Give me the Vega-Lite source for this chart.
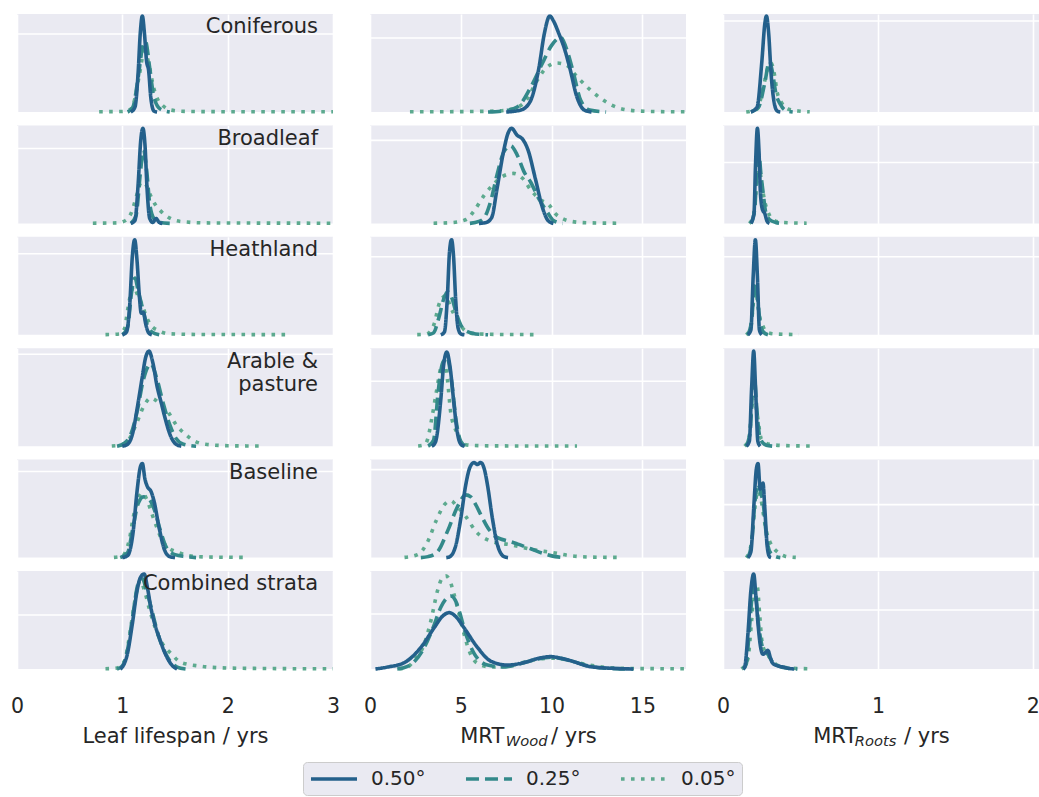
{
  "$schema": "https://vega.github.io/schema/vega-lite/v6.json",
  "padding": {"left": 10, "top": 8, "right": 0, "bottom": 0},
  "data": {
    "values": [
      {"v":"L","s":1,"t":"Coniferous"},{"v":"L","s":2,"t":"Broadleaf"},{"v":"L","s":3,"t":"Heathland"},
      {"v":"L","s":4,"t":"Arable &\npasture"},{"v":"L","s":5,"t":"Baseline"},{"v":"L","s":6,"t":"Combined strata"},
      {"v":"W","s":6,"u":"Wood"},{"v":"R","s":6,"u":"Roots"},

      {"v":"L","s":1,"g":0.796},{"v":"L","s":2,"g":0.765},{"v":"L","s":3,"g":0.827},{"v":"L","s":4,"g":0.939},{"v":"L","s":5,"g":0.878},{"v":"L","s":6,"g":0.551},
      {"v":"W","s":1,"g":0.755},{"v":"W","s":2,"g":0.847},{"v":"W","s":3,"g":0.796},{"v":"W","s":4,"g":0.663},{"v":"W","s":5,"g":0.898},{"v":"W","s":6,"g":0.561},
      {"v":"R","s":1,"g":0.929},{"v":"R","s":2,"g":0.622},{"v":"R","s":3,"g":0.796},{"v":"R","s":5,"g":0.541},{"v":"R","s":6,"g":0.602},

      {"v":"L","s":1,"r":"c","x":0.78,"y":0.003},{"v":"L","s":1,"r":"c","x":1.0,"y":0.005},{"v":"L","s":1,"r":"c","x":1.08,"y":0.03},{"v":"L","s":1,"r":"c","x":1.12,"y":0.14},{"v":"L","s":1,"r":"c","x":1.16,"y":0.37},{"v":"L","s":1,"r":"c","x":1.21,"y":0.62},{"v":"L","s":1,"r":"c","x":1.26,"y":0.45},{"v":"L","s":1,"r":"c","x":1.29,"y":0.28},{"v":"L","s":1,"r":"c","x":1.34,"y":0.12},{"v":"L","s":1,"r":"c","x":1.38,"y":0.07},{"v":"L","s":1,"r":"c","x":1.46,"y":0.02},{"v":"L","s":1,"r":"c","x":1.6,"y":0.006},{"v":"L","s":1,"r":"c","x":2.0,"y":0.003},{"v":"L","s":1,"r":"c","x":3.0,"y":0.002},
      {"v":"L","s":1,"r":"b","x":1.05,"y":0},{"v":"L","s":1,"r":"b","x":1.1,"y":0.05},{"v":"L","s":1,"r":"b","x":1.15,"y":0.35},{"v":"L","s":1,"r":"b","x":1.19,"y":0.65},{"v":"L","s":1,"r":"b","x":1.22,"y":0.72},{"v":"L","s":1,"r":"b","x":1.26,"y":0.45},{"v":"L","s":1,"r":"b","x":1.3,"y":0.15},{"v":"L","s":1,"r":"b","x":1.36,"y":0.03},{"v":"L","s":1,"r":"b","x":1.45,"y":0},
      {"v":"L","s":1,"r":"a","x":1.08,"y":0},{"v":"L","s":1,"r":"a","x":1.12,"y":0.05},{"v":"L","s":1,"r":"a","x":1.15,"y":0.4},{"v":"L","s":1,"r":"a","x":1.17,"y":0.8},{"v":"L","s":1,"r":"a","x":1.19,"y":0.98},{"v":"L","s":1,"r":"a","x":1.21,"y":0.8},{"v":"L","s":1,"r":"a","x":1.23,"y":0.52},{"v":"L","s":1,"r":"a","x":1.25,"y":0.42},{"v":"L","s":1,"r":"a","x":1.27,"y":0.15},{"v":"L","s":1,"r":"a","x":1.3,"y":0.01},{"v":"L","s":1,"r":"a","x":1.33,"y":0},

      {"v":"L","s":2,"r":"c","x":0.72,"y":0.002},{"v":"L","s":2,"r":"c","x":0.95,"y":0.006},{"v":"L","s":2,"r":"c","x":1.03,"y":0.03},{"v":"L","s":2,"r":"c","x":1.09,"y":0.12},{"v":"L","s":2,"r":"c","x":1.14,"y":0.3},{"v":"L","s":2,"r":"c","x":1.18,"y":0.42},{"v":"L","s":2,"r":"c","x":1.22,"y":0.4},{"v":"L","s":2,"r":"c","x":1.27,"y":0.28},{"v":"L","s":2,"r":"c","x":1.32,"y":0.18},{"v":"L","s":2,"r":"c","x":1.37,"y":0.12},{"v":"L","s":2,"r":"c","x":1.44,"y":0.06},{"v":"L","s":2,"r":"c","x":1.55,"y":0.02},{"v":"L","s":2,"r":"c","x":1.8,"y":0.005},{"v":"L","s":2,"r":"c","x":3.0,"y":0.002},
      {"v":"L","s":2,"r":"b","x":1.08,"y":0},{"v":"L","s":2,"r":"b","x":1.13,"y":0.08},{"v":"L","s":2,"r":"b","x":1.17,"y":0.5},{"v":"L","s":2,"r":"b","x":1.2,"y":0.75},{"v":"L","s":2,"r":"b","x":1.23,"y":0.55},{"v":"L","s":2,"r":"b","x":1.26,"y":0.2},{"v":"L","s":2,"r":"b","x":1.3,"y":0.05},{"v":"L","s":2,"r":"b","x":1.36,"y":0.01},{"v":"L","s":2,"r":"b","x":1.45,"y":0},
      {"v":"L","s":2,"r":"a","x":1.08,"y":0},{"v":"L","s":2,"r":"a","x":1.12,"y":0.03},{"v":"L","s":2,"r":"a","x":1.15,"y":0.4},{"v":"L","s":2,"r":"a","x":1.175,"y":0.85},{"v":"L","s":2,"r":"a","x":1.195,"y":0.97},{"v":"L","s":2,"r":"a","x":1.215,"y":0.8},{"v":"L","s":2,"r":"a","x":1.235,"y":0.35},{"v":"L","s":2,"r":"a","x":1.26,"y":0.05},{"v":"L","s":2,"r":"a","x":1.29,"y":0.01},{"v":"L","s":2,"r":"a","x":1.32,"y":0.05},{"v":"L","s":2,"r":"a","x":1.35,"y":0.01},{"v":"L","s":2,"r":"a","x":1.38,"y":0},

      {"v":"L","s":3,"r":"c","x":0.84,"y":0.002},{"v":"L","s":3,"r":"c","x":0.97,"y":0.008},{"v":"L","s":3,"r":"c","x":1.02,"y":0.06},{"v":"L","s":3,"r":"c","x":1.05,"y":0.25},{"v":"L","s":3,"r":"c","x":1.08,"y":0.42},{"v":"L","s":3,"r":"c","x":1.11,"y":0.49},{"v":"L","s":3,"r":"c","x":1.14,"y":0.42},{"v":"L","s":3,"r":"c","x":1.19,"y":0.3},{"v":"L","s":3,"r":"c","x":1.23,"y":0.18},{"v":"L","s":3,"r":"c","x":1.27,"y":0.1},{"v":"L","s":3,"r":"c","x":1.35,"y":0.04},{"v":"L","s":3,"r":"c","x":1.45,"y":0.01},{"v":"L","s":3,"r":"c","x":1.8,"y":0.003},{"v":"L","s":3,"r":"c","x":2.55,"y":0.002},
      {"v":"L","s":3,"r":"b","x":1.0,"y":0},{"v":"L","s":3,"r":"b","x":1.05,"y":0.08},{"v":"L","s":3,"r":"b","x":1.09,"y":0.45},{"v":"L","s":3,"r":"b","x":1.12,"y":0.58},{"v":"L","s":3,"r":"b","x":1.15,"y":0.45},{"v":"L","s":3,"r":"b","x":1.19,"y":0.28},{"v":"L","s":3,"r":"b","x":1.23,"y":0.12},{"v":"L","s":3,"r":"b","x":1.28,"y":0.03},{"v":"L","s":3,"r":"b","x":1.35,"y":0},
      {"v":"L","s":3,"r":"a","x":1.0,"y":0},{"v":"L","s":3,"r":"a","x":1.04,"y":0.03},{"v":"L","s":3,"r":"a","x":1.07,"y":0.3},{"v":"L","s":3,"r":"a","x":1.095,"y":0.8},{"v":"L","s":3,"r":"a","x":1.117,"y":0.97},{"v":"L","s":3,"r":"a","x":1.14,"y":0.75},{"v":"L","s":3,"r":"a","x":1.16,"y":0.42},{"v":"L","s":3,"r":"a","x":1.18,"y":0.22},{"v":"L","s":3,"r":"a","x":1.2,"y":0.23},{"v":"L","s":3,"r":"a","x":1.22,"y":0.12},{"v":"L","s":3,"r":"a","x":1.25,"y":0.02},{"v":"L","s":3,"r":"a","x":1.28,"y":0},

      {"v":"L","s":4,"r":"c","x":0.9,"y":0.002},{"v":"L","s":4,"r":"c","x":1.0,"y":0.015},{"v":"L","s":4,"r":"c","x":1.05,"y":0.05},{"v":"L","s":4,"r":"c","x":1.13,"y":0.22},{"v":"L","s":4,"r":"c","x":1.2,"y":0.4},{"v":"L","s":4,"r":"c","x":1.27,"y":0.49},{"v":"L","s":4,"r":"c","x":1.35,"y":0.44},{"v":"L","s":4,"r":"c","x":1.44,"y":0.34},{"v":"L","s":4,"r":"c","x":1.51,"y":0.22},{"v":"L","s":4,"r":"c","x":1.6,"y":0.12},{"v":"L","s":4,"r":"c","x":1.69,"y":0.05},{"v":"L","s":4,"r":"c","x":1.79,"y":0.02},{"v":"L","s":4,"r":"c","x":2.0,"y":0.005},{"v":"L","s":4,"r":"c","x":2.3,"y":0.002},
      {"v":"L","s":4,"r":"b","x":0.95,"y":0},{"v":"L","s":4,"r":"b","x":1.02,"y":0.03},{"v":"L","s":4,"r":"b","x":1.08,"y":0.12},{"v":"L","s":4,"r":"b","x":1.14,"y":0.35},{"v":"L","s":4,"r":"b","x":1.2,"y":0.68},{"v":"L","s":4,"r":"b","x":1.27,"y":0.84},{"v":"L","s":4,"r":"b","x":1.33,"y":0.68},{"v":"L","s":4,"r":"b","x":1.39,"y":0.43},{"v":"L","s":4,"r":"b","x":1.45,"y":0.22},{"v":"L","s":4,"r":"b","x":1.51,"y":0.08},{"v":"L","s":4,"r":"b","x":1.58,"y":0.02},{"v":"L","s":4,"r":"b","x":1.7,"y":0},
      {"v":"L","s":4,"r":"a","x":1.0,"y":0},{"v":"L","s":4,"r":"a","x":1.05,"y":0.02},{"v":"L","s":4,"r":"a","x":1.1,"y":0.14},{"v":"L","s":4,"r":"a","x":1.14,"y":0.38},{"v":"L","s":4,"r":"a","x":1.19,"y":0.71},{"v":"L","s":4,"r":"a","x":1.22,"y":0.9},{"v":"L","s":4,"r":"a","x":1.253,"y":0.97},{"v":"L","s":4,"r":"a","x":1.29,"y":0.85},{"v":"L","s":4,"r":"a","x":1.33,"y":0.61},{"v":"L","s":4,"r":"a","x":1.37,"y":0.44},{"v":"L","s":4,"r":"a","x":1.4,"y":0.31},{"v":"L","s":4,"r":"a","x":1.46,"y":0.1},{"v":"L","s":4,"r":"a","x":1.51,"y":0.02},{"v":"L","s":4,"r":"a","x":1.56,"y":0},

      {"v":"L","s":5,"r":"c","x":0.92,"y":0.002},{"v":"L","s":5,"r":"c","x":1.0,"y":0.015},{"v":"L","s":5,"r":"c","x":1.03,"y":0.06},{"v":"L","s":5,"r":"c","x":1.07,"y":0.2},{"v":"L","s":5,"r":"c","x":1.1,"y":0.39},{"v":"L","s":5,"r":"c","x":1.15,"y":0.6},{"v":"L","s":5,"r":"c","x":1.19,"y":0.66},{"v":"L","s":5,"r":"c","x":1.23,"y":0.6},{"v":"L","s":5,"r":"c","x":1.28,"y":0.45},{"v":"L","s":5,"r":"c","x":1.33,"y":0.3},{"v":"L","s":5,"r":"c","x":1.38,"y":0.17},{"v":"L","s":5,"r":"c","x":1.44,"y":0.1},{"v":"L","s":5,"r":"c","x":1.54,"y":0.05},{"v":"L","s":5,"r":"c","x":1.63,"y":0.02},{"v":"L","s":5,"r":"c","x":1.8,"y":0.006},{"v":"L","s":5,"r":"c","x":2.2,"y":0.002},
      {"v":"L","s":5,"r":"b","x":0.98,"y":0},{"v":"L","s":5,"r":"b","x":1.05,"y":0.05},{"v":"L","s":5,"r":"b","x":1.1,"y":0.3},{"v":"L","s":5,"r":"b","x":1.15,"y":0.55},{"v":"L","s":5,"r":"b","x":1.2,"y":0.62},{"v":"L","s":5,"r":"b","x":1.25,"y":0.6},{"v":"L","s":5,"r":"b","x":1.3,"y":0.5},{"v":"L","s":5,"r":"b","x":1.36,"y":0.28},{"v":"L","s":5,"r":"b","x":1.42,"y":0.1},{"v":"L","s":5,"r":"b","x":1.5,"y":0.03},{"v":"L","s":5,"r":"b","x":1.6,"y":0.01},{"v":"L","s":5,"r":"b","x":1.7,"y":0},
      {"v":"L","s":5,"r":"a","x":1.0,"y":0},{"v":"L","s":5,"r":"a","x":1.05,"y":0.02},{"v":"L","s":5,"r":"a","x":1.1,"y":0.24},{"v":"L","s":5,"r":"a","x":1.14,"y":0.68},{"v":"L","s":5,"r":"a","x":1.17,"y":0.92},{"v":"L","s":5,"r":"a","x":1.19,"y":0.96},{"v":"L","s":5,"r":"a","x":1.215,"y":0.8},{"v":"L","s":5,"r":"a","x":1.24,"y":0.72},{"v":"L","s":5,"r":"a","x":1.27,"y":0.68},{"v":"L","s":5,"r":"a","x":1.3,"y":0.58},{"v":"L","s":5,"r":"a","x":1.35,"y":0.3},{"v":"L","s":5,"r":"a","x":1.4,"y":0.08},{"v":"L","s":5,"r":"a","x":1.45,"y":0.01},{"v":"L","s":5,"r":"a","x":1.5,"y":0},

      {"v":"L","s":6,"r":"c","x":0.84,"y":0.002},{"v":"L","s":6,"r":"c","x":0.95,"y":0.01},{"v":"L","s":6,"r":"c","x":1.02,"y":0.08},{"v":"L","s":6,"r":"c","x":1.07,"y":0.35},{"v":"L","s":6,"r":"c","x":1.12,"y":0.7},{"v":"L","s":6,"r":"c","x":1.17,"y":0.9},{"v":"L","s":6,"r":"c","x":1.21,"y":0.8},{"v":"L","s":6,"r":"c","x":1.26,"y":0.6},{"v":"L","s":6,"r":"c","x":1.32,"y":0.4},{"v":"L","s":6,"r":"c","x":1.38,"y":0.26},{"v":"L","s":6,"r":"c","x":1.47,"y":0.15},{"v":"L","s":6,"r":"c","x":1.55,"y":0.07},{"v":"L","s":6,"r":"c","x":1.73,"y":0.03},{"v":"L","s":6,"r":"c","x":2.0,"y":0.01},{"v":"L","s":6,"r":"c","x":2.5,"y":0.004},{"v":"L","s":6,"r":"c","x":3.0,"y":0.002},
      {"v":"L","s":6,"r":"b","x":0.95,"y":0},{"v":"L","s":6,"r":"b","x":1.0,"y":0.03},{"v":"L","s":6,"r":"b","x":1.05,"y":0.2},{"v":"L","s":6,"r":"b","x":1.1,"y":0.55},{"v":"L","s":6,"r":"b","x":1.15,"y":0.87},{"v":"L","s":6,"r":"b","x":1.19,"y":0.92},{"v":"L","s":6,"r":"b","x":1.23,"y":0.8},{"v":"L","s":6,"r":"b","x":1.28,"y":0.6},{"v":"L","s":6,"r":"b","x":1.34,"y":0.35},{"v":"L","s":6,"r":"b","x":1.4,"y":0.18},{"v":"L","s":6,"r":"b","x":1.46,"y":0.07},{"v":"L","s":6,"r":"b","x":1.52,"y":0.02},{"v":"L","s":6,"r":"b","x":1.6,"y":0},
      {"v":"L","s":6,"r":"a","x":0.98,"y":0},{"v":"L","s":6,"r":"a","x":1.0,"y":0.02},{"v":"L","s":6,"r":"a","x":1.047,"y":0.15},{"v":"L","s":6,"r":"a","x":1.095,"y":0.46},{"v":"L","s":6,"r":"a","x":1.14,"y":0.8},{"v":"L","s":6,"r":"a","x":1.17,"y":0.93},{"v":"L","s":6,"r":"a","x":1.206,"y":0.97},{"v":"L","s":6,"r":"a","x":1.24,"y":0.82},{"v":"L","s":6,"r":"a","x":1.27,"y":0.63},{"v":"L","s":6,"r":"a","x":1.31,"y":0.45},{"v":"L","s":6,"r":"a","x":1.35,"y":0.32},{"v":"L","s":6,"r":"a","x":1.41,"y":0.15},{"v":"L","s":6,"r":"a","x":1.47,"y":0.04},{"v":"L","s":6,"r":"a","x":1.52,"y":0},

      {"v":"W","s":1,"r":"c","x":2.2,"y":0.002},{"v":"W","s":1,"r":"c","x":5,"y":0.004},{"v":"W","s":1,"r":"c","x":7,"y":0.01},{"v":"W","s":1,"r":"c","x":8.0,"y":0.04},{"v":"W","s":1,"r":"c","x":8.6,"y":0.12},{"v":"W","s":1,"r":"c","x":9.2,"y":0.32},{"v":"W","s":1,"r":"c","x":9.7,"y":0.45},{"v":"W","s":1,"r":"c","x":10.3,"y":0.5},{"v":"W","s":1,"r":"c","x":10.8,"y":0.48},{"v":"W","s":1,"r":"c","x":11.4,"y":0.36},{"v":"W","s":1,"r":"c","x":12.1,"y":0.23},{"v":"W","s":1,"r":"c","x":12.7,"y":0.14},{"v":"W","s":1,"r":"c","x":13.2,"y":0.08},{"v":"W","s":1,"r":"c","x":14.2,"y":0.02},{"v":"W","s":1,"r":"c","x":15.5,"y":0.005},{"v":"W","s":1,"r":"c","x":17.4,"y":0.002},
      {"v":"W","s":1,"r":"b","x":6.5,"y":0},{"v":"W","s":1,"r":"b","x":7.3,"y":0.01},{"v":"W","s":1,"r":"b","x":8.1,"y":0.05},{"v":"W","s":1,"r":"b","x":8.9,"y":0.27},{"v":"W","s":1,"r":"b","x":9.5,"y":0.5},{"v":"W","s":1,"r":"b","x":10.0,"y":0.68},{"v":"W","s":1,"r":"b","x":10.5,"y":0.76},{"v":"W","s":1,"r":"b","x":10.9,"y":0.6},{"v":"W","s":1,"r":"b","x":11.2,"y":0.4},{"v":"W","s":1,"r":"b","x":11.6,"y":0.12},{"v":"W","s":1,"r":"b","x":12.1,"y":0.02},{"v":"W","s":1,"r":"b","x":13,"y":0},
      {"v":"W","s":1,"r":"a","x":7.5,"y":0},{"v":"W","s":1,"r":"a","x":8.3,"y":0.02},{"v":"W","s":1,"r":"a","x":8.8,"y":0.1},{"v":"W","s":1,"r":"a","x":9.3,"y":0.45},{"v":"W","s":1,"r":"a","x":9.6,"y":0.8},{"v":"W","s":1,"r":"a","x":9.9,"y":0.98},{"v":"W","s":1,"r":"a","x":10.1,"y":0.93},{"v":"W","s":1,"r":"a","x":10.4,"y":0.8},{"v":"W","s":1,"r":"a","x":10.7,"y":0.65},{"v":"W","s":1,"r":"a","x":11.0,"y":0.45},{"v":"W","s":1,"r":"a","x":11.4,"y":0.15},{"v":"W","s":1,"r":"a","x":11.8,"y":0.02},{"v":"W","s":1,"r":"a","x":12.2,"y":0},

      {"v":"W","s":2,"r":"c","x":3.5,"y":0.002},{"v":"W","s":2,"r":"c","x":4.5,"y":0.008},{"v":"W","s":2,"r":"c","x":5.3,"y":0.04},{"v":"W","s":2,"r":"c","x":5.7,"y":0.12},{"v":"W","s":2,"r":"c","x":6.3,"y":0.29},{"v":"W","s":2,"r":"c","x":6.8,"y":0.4},{"v":"W","s":2,"r":"c","x":7.3,"y":0.48},{"v":"W","s":2,"r":"c","x":7.9,"y":0.51},{"v":"W","s":2,"r":"c","x":8.4,"y":0.46},{"v":"W","s":2,"r":"c","x":8.9,"y":0.33},{"v":"W","s":2,"r":"c","x":9.4,"y":0.24},{"v":"W","s":2,"r":"c","x":9.85,"y":0.19},{"v":"W","s":2,"r":"c","x":10.2,"y":0.1},{"v":"W","s":2,"r":"c","x":10.6,"y":0.05},{"v":"W","s":2,"r":"c","x":11.1,"y":0.02},{"v":"W","s":2,"r":"c","x":12,"y":0.006},{"v":"W","s":2,"r":"c","x":13.6,"y":0.002},
      {"v":"W","s":2,"r":"b","x":5.5,"y":0},{"v":"W","s":2,"r":"b","x":6.0,"y":0.02},{"v":"W","s":2,"r":"b","x":6.3,"y":0.06},{"v":"W","s":2,"r":"b","x":6.65,"y":0.23},{"v":"W","s":2,"r":"b","x":7.0,"y":0.5},{"v":"W","s":2,"r":"b","x":7.4,"y":0.74},{"v":"W","s":2,"r":"b","x":7.75,"y":0.79},{"v":"W","s":2,"r":"b","x":8.1,"y":0.7},{"v":"W","s":2,"r":"b","x":8.5,"y":0.52},{"v":"W","s":2,"r":"b","x":8.85,"y":0.42},{"v":"W","s":2,"r":"b","x":9.3,"y":0.25},{"v":"W","s":2,"r":"b","x":9.75,"y":0.12},{"v":"W","s":2,"r":"b","x":10.1,"y":0.03},{"v":"W","s":2,"r":"b","x":10.6,"y":0},
      {"v":"W","s":2,"r":"a","x":6.0,"y":0},{"v":"W","s":2,"r":"a","x":6.4,"y":0.01},{"v":"W","s":2,"r":"a","x":6.7,"y":0.06},{"v":"W","s":2,"r":"a","x":7.0,"y":0.36},{"v":"W","s":2,"r":"a","x":7.35,"y":0.73},{"v":"W","s":2,"r":"a","x":7.6,"y":0.92},{"v":"W","s":2,"r":"a","x":7.8,"y":0.97},{"v":"W","s":2,"r":"a","x":8.1,"y":0.9},{"v":"W","s":2,"r":"a","x":8.4,"y":0.86},{"v":"W","s":2,"r":"a","x":8.7,"y":0.75},{"v":"W","s":2,"r":"a","x":9.1,"y":0.46},{"v":"W","s":2,"r":"a","x":9.5,"y":0.16},{"v":"W","s":2,"r":"a","x":9.8,"y":0.03},{"v":"W","s":2,"r":"a","x":10.1,"y":0},

      {"v":"W","s":3,"r":"c","x":2.6,"y":0.002},{"v":"W","s":3,"r":"c","x":3.1,"y":0.008},{"v":"W","s":3,"r":"c","x":3.3,"y":0.03},{"v":"W","s":3,"r":"c","x":3.55,"y":0.12},{"v":"W","s":3,"r":"c","x":3.78,"y":0.3},{"v":"W","s":3,"r":"c","x":4.0,"y":0.38},{"v":"W","s":3,"r":"c","x":4.18,"y":0.4},{"v":"W","s":3,"r":"c","x":4.4,"y":0.3},{"v":"W","s":3,"r":"c","x":4.6,"y":0.22},{"v":"W","s":3,"r":"c","x":4.85,"y":0.14},{"v":"W","s":3,"r":"c","x":5.25,"y":0.04},{"v":"W","s":3,"r":"c","x":5.8,"y":0.01},{"v":"W","s":3,"r":"c","x":7,"y":0.004},{"v":"W","s":3,"r":"c","x":9.2,"y":0.002},
      {"v":"W","s":3,"r":"b","x":3.2,"y":0},{"v":"W","s":3,"r":"b","x":3.5,"y":0.02},{"v":"W","s":3,"r":"b","x":3.8,"y":0.18},{"v":"W","s":3,"r":"b","x":4.05,"y":0.36},{"v":"W","s":3,"r":"b","x":4.27,"y":0.44},{"v":"W","s":3,"r":"b","x":4.5,"y":0.38},{"v":"W","s":3,"r":"b","x":4.75,"y":0.22},{"v":"W","s":3,"r":"b","x":5.0,"y":0.1},{"v":"W","s":3,"r":"b","x":5.4,"y":0.03},{"v":"W","s":3,"r":"b","x":6.0,"y":0.005},{"v":"W","s":3,"r":"b","x":6.5,"y":0},
      {"v":"W","s":3,"r":"a","x":3.9,"y":0},{"v":"W","s":3,"r":"a","x":4.1,"y":0.03},{"v":"W","s":3,"r":"a","x":4.25,"y":0.35},{"v":"W","s":3,"r":"a","x":4.38,"y":0.85},{"v":"W","s":3,"r":"a","x":4.49,"y":0.97},{"v":"W","s":3,"r":"a","x":4.6,"y":0.8},{"v":"W","s":3,"r":"a","x":4.72,"y":0.35},{"v":"W","s":3,"r":"a","x":4.85,"y":0.07},{"v":"W","s":3,"r":"a","x":5.0,"y":0.01},{"v":"W","s":3,"r":"a","x":5.2,"y":0},

      {"v":"W","s":4,"r":"c","x":2.65,"y":0.002},{"v":"W","s":4,"r":"c","x":3.0,"y":0.015},{"v":"W","s":4,"r":"c","x":3.17,"y":0.07},{"v":"W","s":4,"r":"c","x":3.39,"y":0.27},{"v":"W","s":4,"r":"c","x":3.67,"y":0.57},{"v":"W","s":4,"r":"c","x":3.9,"y":0.8},{"v":"W","s":4,"r":"c","x":4.08,"y":0.86},{"v":"W","s":4,"r":"c","x":4.25,"y":0.7},{"v":"W","s":4,"r":"c","x":4.45,"y":0.34},{"v":"W","s":4,"r":"c","x":4.78,"y":0.14},{"v":"W","s":4,"r":"c","x":5.05,"y":0.03},{"v":"W","s":4,"r":"c","x":5.6,"y":0.008},{"v":"W","s":4,"r":"c","x":7,"y":0.003},{"v":"W","s":4,"r":"c","x":11.4,"y":0.002},
      {"v":"W","s":4,"r":"b","x":3.2,"y":0},{"v":"W","s":4,"r":"b","x":3.5,"y":0.06},{"v":"W","s":4,"r":"b","x":3.75,"y":0.55},{"v":"W","s":4,"r":"b","x":4.0,"y":0.85},{"v":"W","s":4,"r":"b","x":4.25,"y":0.9},{"v":"W","s":4,"r":"b","x":4.5,"y":0.65},{"v":"W","s":4,"r":"b","x":4.75,"y":0.25},{"v":"W","s":4,"r":"b","x":5.0,"y":0.05},{"v":"W","s":4,"r":"b","x":5.3,"y":0},
      {"v":"W","s":4,"r":"a","x":3.4,"y":0},{"v":"W","s":4,"r":"a","x":3.6,"y":0.04},{"v":"W","s":4,"r":"a","x":3.9,"y":0.48},{"v":"W","s":4,"r":"a","x":4.05,"y":0.82},{"v":"W","s":4,"r":"a","x":4.23,"y":0.96},{"v":"W","s":4,"r":"a","x":4.4,"y":0.82},{"v":"W","s":4,"r":"a","x":4.63,"y":0.42},{"v":"W","s":4,"r":"a","x":4.8,"y":0.15},{"v":"W","s":4,"r":"a","x":5.0,"y":0.02},{"v":"W","s":4,"r":"a","x":5.2,"y":0},

      {"v":"W","s":5,"r":"c","x":1.9,"y":0.002},{"v":"W","s":5,"r":"c","x":2.62,"y":0.03},{"v":"W","s":5,"r":"c","x":3.17,"y":0.16},{"v":"W","s":5,"r":"c","x":3.63,"y":0.37},{"v":"W","s":5,"r":"c","x":4.1,"y":0.54},{"v":"W","s":5,"r":"c","x":4.45,"y":0.58},{"v":"W","s":5,"r":"c","x":4.8,"y":0.52},{"v":"W","s":5,"r":"c","x":5.27,"y":0.42},{"v":"W","s":5,"r":"c","x":5.82,"y":0.27},{"v":"W","s":5,"r":"c","x":6.63,"y":0.17},{"v":"W","s":5,"r":"c","x":7.75,"y":0.13},{"v":"W","s":5,"r":"c","x":9.03,"y":0.08},{"v":"W","s":5,"r":"c","x":10.1,"y":0.05},{"v":"W","s":5,"r":"c","x":11.0,"y":0.02},{"v":"W","s":5,"r":"c","x":12,"y":0.006},{"v":"W","s":5,"r":"c","x":13.6,"y":0.002},
      {"v":"W","s":5,"r":"b","x":2.8,"y":0},{"v":"W","s":5,"r":"b","x":3.2,"y":0.01},{"v":"W","s":5,"r":"b","x":3.72,"y":0.06},{"v":"W","s":5,"r":"b","x":4.27,"y":0.27},{"v":"W","s":5,"r":"b","x":4.82,"y":0.52},{"v":"W","s":5,"r":"b","x":5.27,"y":0.64},{"v":"W","s":5,"r":"b","x":5.55,"y":0.62},{"v":"W","s":5,"r":"b","x":5.82,"y":0.54},{"v":"W","s":5,"r":"b","x":6.15,"y":0.42},{"v":"W","s":5,"r":"b","x":6.47,"y":0.31},{"v":"W","s":5,"r":"b","x":6.8,"y":0.23},{"v":"W","s":5,"r":"b","x":7.2,"y":0.19},{"v":"W","s":5,"r":"b","x":7.6,"y":0.17},{"v":"W","s":5,"r":"b","x":8.1,"y":0.14},{"v":"W","s":5,"r":"b","x":8.85,"y":0.09},{"v":"W","s":5,"r":"b","x":9.58,"y":0.04},{"v":"W","s":5,"r":"b","x":10.2,"y":0.01},{"v":"W","s":5,"r":"b","x":10.8,"y":0},
      {"v":"W","s":5,"r":"a","x":4.2,"y":0},{"v":"W","s":5,"r":"a","x":4.4,"y":0.01},{"v":"W","s":5,"r":"a","x":4.73,"y":0.13},{"v":"W","s":5,"r":"a","x":5.0,"y":0.4},{"v":"W","s":5,"r":"a","x":5.27,"y":0.74},{"v":"W","s":5,"r":"a","x":5.5,"y":0.92},{"v":"W","s":5,"r":"a","x":5.73,"y":0.97},{"v":"W","s":5,"r":"a","x":5.9,"y":0.95},{"v":"W","s":5,"r":"a","x":6.1,"y":0.97},{"v":"W","s":5,"r":"a","x":6.3,"y":0.9},{"v":"W","s":5,"r":"a","x":6.47,"y":0.74},{"v":"W","s":5,"r":"a","x":6.74,"y":0.4},{"v":"W","s":5,"r":"a","x":7.02,"y":0.13},{"v":"W","s":5,"r":"a","x":7.38,"y":0.01},{"v":"W","s":5,"r":"a","x":7.6,"y":0},

      {"v":"W","s":6,"r":"c","x":1.6,"y":0.002},{"v":"W","s":6,"r":"c","x":2.07,"y":0.02},{"v":"W","s":6,"r":"c","x":2.43,"y":0.09},{"v":"W","s":6,"r":"c","x":2.98,"y":0.25},{"v":"W","s":6,"r":"c","x":3.35,"y":0.49},{"v":"W","s":6,"r":"c","x":3.72,"y":0.8},{"v":"W","s":6,"r":"c","x":3.95,"y":0.92},{"v":"W","s":6,"r":"c","x":4.18,"y":0.95},{"v":"W","s":6,"r":"c","x":4.4,"y":0.9},{"v":"W","s":6,"r":"c","x":4.63,"y":0.76},{"v":"W","s":6,"r":"c","x":5.09,"y":0.42},{"v":"W","s":6,"r":"c","x":5.45,"y":0.19},{"v":"W","s":6,"r":"c","x":5.9,"y":0.06},{"v":"W","s":6,"r":"c","x":6.65,"y":0.02},{"v":"W","s":6,"r":"c","x":7.6,"y":0.03},{"v":"W","s":6,"r":"c","x":8.5,"y":0.07},{"v":"W","s":6,"r":"c","x":9.5,"y":0.105},{"v":"W","s":6,"r":"c","x":10.3,"y":0.11},{"v":"W","s":6,"r":"c","x":11.0,"y":0.085},{"v":"W","s":6,"r":"c","x":11.8,"y":0.05},{"v":"W","s":6,"r":"c","x":12.8,"y":0.02},{"v":"W","s":6,"r":"c","x":14,"y":0.006},{"v":"W","s":6,"r":"c","x":17.4,"y":0.002},
      {"v":"W","s":6,"r":"b","x":1.5,"y":0},{"v":"W","s":6,"r":"b","x":1.8,"y":0.01},{"v":"W","s":6,"r":"b","x":2.36,"y":0.06},{"v":"W","s":6,"r":"b","x":2.9,"y":0.19},{"v":"W","s":6,"r":"b","x":3.45,"y":0.41},{"v":"W","s":6,"r":"b","x":3.9,"y":0.63},{"v":"W","s":6,"r":"b","x":4.2,"y":0.72},{"v":"W","s":6,"r":"b","x":4.45,"y":0.745},{"v":"W","s":6,"r":"b","x":4.7,"y":0.7},{"v":"W","s":6,"r":"b","x":4.9,"y":0.6},{"v":"W","s":6,"r":"b","x":5.27,"y":0.36},{"v":"W","s":6,"r":"b","x":5.73,"y":0.16},{"v":"W","s":6,"r":"b","x":6.47,"y":0.04},{"v":"W","s":6,"r":"b","x":7.3,"y":0.02},{"v":"W","s":6,"r":"b","x":8.2,"y":0.05},{"v":"W","s":6,"r":"b","x":9.2,"y":0.1},{"v":"W","s":6,"r":"b","x":10.0,"y":0.12},{"v":"W","s":6,"r":"b","x":10.7,"y":0.1},{"v":"W","s":6,"r":"b","x":11.4,"y":0.065},{"v":"W","s":6,"r":"b","x":12.3,"y":0.02},{"v":"W","s":6,"r":"b","x":13.5,"y":0.004},{"v":"W","s":6,"r":"b","x":14.5,"y":0},
      {"v":"W","s":6,"r":"a","x":0.3,"y":0},{"v":"W","s":6,"r":"a","x":0.97,"y":0.02},{"v":"W","s":6,"r":"a","x":1.88,"y":0.064},{"v":"W","s":6,"r":"a","x":2.8,"y":0.22},{"v":"W","s":6,"r":"a","x":3.53,"y":0.42},{"v":"W","s":6,"r":"a","x":4.0,"y":0.54},{"v":"W","s":6,"r":"a","x":4.36,"y":0.575},{"v":"W","s":6,"r":"a","x":4.75,"y":0.53},{"v":"W","s":6,"r":"a","x":5.18,"y":0.42},{"v":"W","s":6,"r":"a","x":5.92,"y":0.22},{"v":"W","s":6,"r":"a","x":6.65,"y":0.08},{"v":"W","s":6,"r":"a","x":7.57,"y":0.04},{"v":"W","s":6,"r":"a","x":8.48,"y":0.065},{"v":"W","s":6,"r":"a","x":9.3,"y":0.11},{"v":"W","s":6,"r":"a","x":9.95,"y":0.126},{"v":"W","s":6,"r":"a","x":10.5,"y":0.11},{"v":"W","s":6,"r":"a","x":11.04,"y":0.085},{"v":"W","s":6,"r":"a","x":12.14,"y":0.024},{"v":"W","s":6,"r":"a","x":13.6,"y":0.005},{"v":"W","s":6,"r":"a","x":14.5,"y":0},

      {"v":"R","s":1,"r":"c","x":0.15,"y":0},{"v":"R","s":1,"r":"c","x":0.22,"y":0.03},{"v":"R","s":1,"r":"c","x":0.26,"y":0.25},{"v":"R","s":1,"r":"c","x":0.29,"y":0.45},{"v":"R","s":1,"r":"c","x":0.31,"y":0.5},{"v":"R","s":1,"r":"c","x":0.33,"y":0.4},{"v":"R","s":1,"r":"c","x":0.35,"y":0.2},{"v":"R","s":1,"r":"c","x":0.38,"y":0.09},{"v":"R","s":1,"r":"c","x":0.42,"y":0.03},{"v":"R","s":1,"r":"c","x":0.5,"y":0.008},{"v":"R","s":1,"r":"c","x":0.56,"y":0.002},
      {"v":"R","s":1,"r":"b","x":0.18,"y":0},{"v":"R","s":1,"r":"b","x":0.23,"y":0.05},{"v":"R","s":1,"r":"b","x":0.27,"y":0.3},{"v":"R","s":1,"r":"b","x":0.3,"y":0.52},{"v":"R","s":1,"r":"b","x":0.32,"y":0.4},{"v":"R","s":1,"r":"b","x":0.34,"y":0.2},{"v":"R","s":1,"r":"b","x":0.37,"y":0.08},{"v":"R","s":1,"r":"b","x":0.4,"y":0.02},{"v":"R","s":1,"r":"b","x":0.45,"y":0},
      {"v":"R","s":1,"r":"a","x":0.18,"y":0},{"v":"R","s":1,"r":"a","x":0.22,"y":0.05},{"v":"R","s":1,"r":"a","x":0.25,"y":0.5},{"v":"R","s":1,"r":"a","x":0.27,"y":0.9},{"v":"R","s":1,"r":"a","x":0.28,"y":0.98},{"v":"R","s":1,"r":"a","x":0.295,"y":0.8},{"v":"R","s":1,"r":"a","x":0.31,"y":0.4},{"v":"R","s":1,"r":"a","x":0.33,"y":0.1},{"v":"R","s":1,"r":"a","x":0.35,"y":0.01},{"v":"R","s":1,"r":"a","x":0.37,"y":0},

      {"v":"R","s":2,"r":"c","x":0.17,"y":0},{"v":"R","s":2,"r":"c","x":0.2,"y":0.1},{"v":"R","s":2,"r":"c","x":0.22,"y":0.45},{"v":"R","s":2,"r":"c","x":0.235,"y":0.55},{"v":"R","s":2,"r":"c","x":0.25,"y":0.4},{"v":"R","s":2,"r":"c","x":0.27,"y":0.22},{"v":"R","s":2,"r":"c","x":0.29,"y":0.12},{"v":"R","s":2,"r":"c","x":0.32,"y":0.04},{"v":"R","s":2,"r":"c","x":0.38,"y":0.01},{"v":"R","s":2,"r":"c","x":0.54,"y":0.002},
      {"v":"R","s":2,"r":"b","x":0.18,"y":0},{"v":"R","s":2,"r":"b","x":0.205,"y":0.15},{"v":"R","s":2,"r":"b","x":0.22,"y":0.6},{"v":"R","s":2,"r":"b","x":0.232,"y":0.7},{"v":"R","s":2,"r":"b","x":0.245,"y":0.5},{"v":"R","s":2,"r":"b","x":0.26,"y":0.3},{"v":"R","s":2,"r":"b","x":0.275,"y":0.12},{"v":"R","s":2,"r":"b","x":0.3,"y":0.04},{"v":"R","s":2,"r":"b","x":0.34,"y":0.01},{"v":"R","s":2,"r":"b","x":0.38,"y":0},
      {"v":"R","s":2,"r":"a","x":0.18,"y":0},{"v":"R","s":2,"r":"a","x":0.2,"y":0.1},{"v":"R","s":2,"r":"a","x":0.21,"y":0.6},{"v":"R","s":2,"r":"a","x":0.222,"y":0.97},{"v":"R","s":2,"r":"a","x":0.232,"y":0.75},{"v":"R","s":2,"r":"a","x":0.242,"y":0.3},{"v":"R","s":2,"r":"a","x":0.255,"y":0.14},{"v":"R","s":2,"r":"a","x":0.27,"y":0.1},{"v":"R","s":2,"r":"a","x":0.285,"y":0.02},{"v":"R","s":2,"r":"a","x":0.3,"y":0},

      {"v":"R","s":3,"r":"c","x":0.15,"y":0},{"v":"R","s":3,"r":"c","x":0.18,"y":0.08},{"v":"R","s":3,"r":"c","x":0.2,"y":0.38},{"v":"R","s":3,"r":"c","x":0.212,"y":0.44},{"v":"R","s":3,"r":"c","x":0.225,"y":0.3},{"v":"R","s":3,"r":"c","x":0.24,"y":0.16},{"v":"R","s":3,"r":"c","x":0.255,"y":0.1},{"v":"R","s":3,"r":"c","x":0.28,"y":0.03},{"v":"R","s":3,"r":"c","x":0.33,"y":0.01},{"v":"R","s":3,"r":"c","x":0.49,"y":0.002},
      {"v":"R","s":3,"r":"b","x":0.16,"y":0},{"v":"R","s":3,"r":"b","x":0.185,"y":0.15},{"v":"R","s":3,"r":"b","x":0.2,"y":0.45},{"v":"R","s":3,"r":"b","x":0.212,"y":0.52},{"v":"R","s":3,"r":"b","x":0.225,"y":0.35},{"v":"R","s":3,"r":"b","x":0.24,"y":0.12},{"v":"R","s":3,"r":"b","x":0.26,"y":0.03},{"v":"R","s":3,"r":"b","x":0.29,"y":0},
      {"v":"R","s":3,"r":"a","x":0.16,"y":0},{"v":"R","s":3,"r":"a","x":0.18,"y":0.05},{"v":"R","s":3,"r":"a","x":0.195,"y":0.6},{"v":"R","s":3,"r":"a","x":0.209,"y":0.97},{"v":"R","s":3,"r":"a","x":0.222,"y":0.6},{"v":"R","s":3,"r":"a","x":0.235,"y":0.05},{"v":"R","s":3,"r":"a","x":0.25,"y":0},

      {"v":"R","s":4,"r":"c","x":0.14,"y":0},{"v":"R","s":4,"r":"c","x":0.17,"y":0.1},{"v":"R","s":4,"r":"c","x":0.19,"y":0.45},{"v":"R","s":4,"r":"c","x":0.205,"y":0.5},{"v":"R","s":4,"r":"c","x":0.215,"y":0.39},{"v":"R","s":4,"r":"c","x":0.226,"y":0.27},{"v":"R","s":4,"r":"c","x":0.235,"y":0.17},{"v":"R","s":4,"r":"c","x":0.248,"y":0.07},{"v":"R","s":4,"r":"c","x":0.3,"y":0.02},{"v":"R","s":4,"r":"c","x":0.4,"y":0.006},{"v":"R","s":4,"r":"c","x":0.58,"y":0.002},
      {"v":"R","s":4,"r":"b","x":0.15,"y":0},{"v":"R","s":4,"r":"b","x":0.175,"y":0.15},{"v":"R","s":4,"r":"b","x":0.192,"y":0.6},{"v":"R","s":4,"r":"b","x":0.203,"y":0.7},{"v":"R","s":4,"r":"b","x":0.215,"y":0.45},{"v":"R","s":4,"r":"b","x":0.228,"y":0.2},{"v":"R","s":4,"r":"b","x":0.245,"y":0.06},{"v":"R","s":4,"r":"b","x":0.28,"y":0.01},{"v":"R","s":4,"r":"b","x":0.32,"y":0},
      {"v":"R","s":4,"r":"a","x":0.15,"y":0},{"v":"R","s":4,"r":"a","x":0.17,"y":0.05},{"v":"R","s":4,"r":"a","x":0.185,"y":0.6},{"v":"R","s":4,"r":"a","x":0.198,"y":0.97},{"v":"R","s":4,"r":"a","x":0.21,"y":0.6},{"v":"R","s":4,"r":"a","x":0.225,"y":0.05},{"v":"R","s":4,"r":"a","x":0.24,"y":0},

      {"v":"R","s":5,"r":"c","x":0.15,"y":0},{"v":"R","s":5,"r":"c","x":0.18,"y":0.12},{"v":"R","s":5,"r":"c","x":0.205,"y":0.5},{"v":"R","s":5,"r":"c","x":0.225,"y":0.68},{"v":"R","s":5,"r":"c","x":0.245,"y":0.6},{"v":"R","s":5,"r":"c","x":0.26,"y":0.45},{"v":"R","s":5,"r":"c","x":0.28,"y":0.27},{"v":"R","s":5,"r":"c","x":0.3,"y":0.17},{"v":"R","s":5,"r":"c","x":0.33,"y":0.09},{"v":"R","s":5,"r":"c","x":0.35,"y":0.06},{"v":"R","s":5,"r":"c","x":0.4,"y":0.015},{"v":"R","s":5,"r":"c","x":0.47,"y":0.002},
      {"v":"R","s":5,"r":"b","x":0.16,"y":0},{"v":"R","s":5,"r":"b","x":0.185,"y":0.15},{"v":"R","s":5,"r":"b","x":0.205,"y":0.55},{"v":"R","s":5,"r":"b","x":0.225,"y":0.75},{"v":"R","s":5,"r":"b","x":0.245,"y":0.65},{"v":"R","s":5,"r":"b","x":0.26,"y":0.55},{"v":"R","s":5,"r":"b","x":0.275,"y":0.3},{"v":"R","s":5,"r":"b","x":0.29,"y":0.12},{"v":"R","s":5,"r":"b","x":0.31,"y":0.04},{"v":"R","s":5,"r":"b","x":0.34,"y":0.01},{"v":"R","s":5,"r":"b","x":0.37,"y":0},
      {"v":"R","s":5,"r":"a","x":0.16,"y":0},{"v":"R","s":5,"r":"a","x":0.18,"y":0.06},{"v":"R","s":5,"r":"a","x":0.2,"y":0.55},{"v":"R","s":5,"r":"a","x":0.215,"y":0.9},{"v":"R","s":5,"r":"a","x":0.226,"y":0.96},{"v":"R","s":5,"r":"a","x":0.24,"y":0.7},{"v":"R","s":5,"r":"a","x":0.25,"y":0.72},{"v":"R","s":5,"r":"a","x":0.258,"y":0.76},{"v":"R","s":5,"r":"a","x":0.27,"y":0.5},{"v":"R","s":5,"r":"a","x":0.285,"y":0.12},{"v":"R","s":5,"r":"a","x":0.3,"y":0.01},{"v":"R","s":5,"r":"a","x":0.31,"y":0},

      {"v":"R","s":6,"r":"c","x":0.12,"y":0},{"v":"R","s":6,"r":"c","x":0.16,"y":0.1},{"v":"R","s":6,"r":"c","x":0.185,"y":0.5},{"v":"R","s":6,"r":"c","x":0.205,"y":0.85},{"v":"R","s":6,"r":"c","x":0.22,"y":0.85},{"v":"R","s":6,"r":"c","x":0.237,"y":0.55},{"v":"R","s":6,"r":"c","x":0.25,"y":0.3},{"v":"R","s":6,"r":"c","x":0.27,"y":0.18},{"v":"R","s":6,"r":"c","x":0.29,"y":0.14},{"v":"R","s":6,"r":"c","x":0.32,"y":0.08},{"v":"R","s":6,"r":"c","x":0.36,"y":0.03},{"v":"R","s":6,"r":"c","x":0.45,"y":0.008},{"v":"R","s":6,"r":"c","x":0.57,"y":0.002},
      {"v":"R","s":6,"r":"b","x":0.13,"y":0},{"v":"R","s":6,"r":"b","x":0.15,"y":0.05},{"v":"R","s":6,"r":"b","x":0.17,"y":0.4},{"v":"R","s":6,"r":"b","x":0.19,"y":0.78},{"v":"R","s":6,"r":"b","x":0.2,"y":0.85},{"v":"R","s":6,"r":"b","x":0.215,"y":0.7},{"v":"R","s":6,"r":"b","x":0.23,"y":0.45},{"v":"R","s":6,"r":"b","x":0.25,"y":0.25},{"v":"R","s":6,"r":"b","x":0.27,"y":0.18},{"v":"R","s":6,"r":"b","x":0.29,"y":0.15},{"v":"R","s":6,"r":"b","x":0.32,"y":0.07},{"v":"R","s":6,"r":"b","x":0.36,"y":0.03},{"v":"R","s":6,"r":"b","x":0.42,"y":0.008},{"v":"R","s":6,"r":"b","x":0.48,"y":0},
      {"v":"R","s":6,"r":"a","x":0.13,"y":0},{"v":"R","s":6,"r":"a","x":0.14,"y":0.02},{"v":"R","s":6,"r":"a","x":0.161,"y":0.36},{"v":"R","s":6,"r":"a","x":0.18,"y":0.8},{"v":"R","s":6,"r":"a","x":0.198,"y":0.97},{"v":"R","s":6,"r":"a","x":0.212,"y":0.75},{"v":"R","s":6,"r":"a","x":0.226,"y":0.46},{"v":"R","s":6,"r":"a","x":0.24,"y":0.25},{"v":"R","s":6,"r":"a","x":0.258,"y":0.15},{"v":"R","s":6,"r":"a","x":0.275,"y":0.17},{"v":"R","s":6,"r":"a","x":0.29,"y":0.19},{"v":"R","s":6,"r":"a","x":0.305,"y":0.12},{"v":"R","s":6,"r":"a","x":0.32,"y":0.06},{"v":"R","s":6,"r":"a","x":0.35,"y":0.035},{"v":"R","s":6,"r":"a","x":0.387,"y":0.02},{"v":"R","s":6,"r":"a","x":0.43,"y":0.005},{"v":"R","s":6,"r":"a","x":0.46,"y":0}
    ]
  },
  "spacing": 22,
  "resolve": {"scale": {"x": "independent", "y": "independent", "color": "shared", "strokeDash": "shared"}},
  "hconcat": [
    {
      "transform": [{"filter": "datum.v == 'L'"}],
      "facet": {"row": {"field": "s", "type": "ordinal", "header": {"labels": false, "title": null}}},
      "spacing": {"row": 13.4},
      "bounds": "flush",
      "spec": {
        "width": 316,
        "height": 98,
        "layer": [
          {
            "transform": [{"filter": "isValid(datum.g)"}],
            "mark": {"type": "rule", "color": "white", "strokeWidth": 1.6},
            "encoding": {"y": {"field": "g", "type": "quantitative", "axis": null}}
          },
          {
            "transform": [{"filter": "isValid(datum.r)"}],
            "mark": {"type": "line", "strokeWidth": 3.6, "interpolate": "monotone"},
            "encoding": {
              "x": {"field": "x", "type": "quantitative", "scale": {"domain": [0, 3], "nice": false, "zero": false},
                    "axis": {"values": [0, 1, 2, 3], "format": "d", "tickCount": 10, "tickMinStep": 0.5, "title": "Leaf lifespan / yrs"}},
              "y": {"field": "y", "type": "quantitative", "scale": {"domain": [0, 1], "nice": false}, "axis": null},
              "color": {"field": "r", "type": "nominal",
                        "scale": {"domain": ["a", "b", "c"], "range": ["#24608b", "#33898a", "#5daa8f"]},
                        "legend": {"title": null, "labelExpr": "datum.value == 'a' ? '0.50°' : datum.value == 'b' ? '0.25°' : '0.05°'"}},
              "strokeDash": {"field": "r", "type": "nominal",
                             "scale": {"domain": ["a", "b", "c"], "range": [[1, 0], [13, 6], [3.6, 6.4]]},
                             "legend": {"title": null, "labelExpr": "datum.value == 'a' ? '0.50°' : datum.value == 'b' ? '0.25°' : '0.05°'"}}
            }
          },
          {
            "transform": [{"filter": "isValid(datum.t)"}],
            "mark": {"type": "text", "align": "right", "baseline": "alphabetic", "fontSize": 21, "lineBreak": "\n", "lineHeight": 23.5, "color": "#262626"},
            "encoding": {"x": {"datum": 2.858}, "y": {"datum": 0.803}, "text": {"field": "t"}}
          }
        ]
      }
    },
    {
      "transform": [{"filter": "datum.v == 'W'"}],
      "facet": {"row": {"field": "s", "type": "ordinal", "header": {"labels": false, "title": null}}},
      "spacing": {"row": 13.4},
      "bounds": "flush",
      "spec": {
        "width": 316,
        "height": 98,
        "layer": [
          {
            "transform": [{"filter": "isValid(datum.g)"}],
            "mark": {"type": "rule", "color": "white", "strokeWidth": 1.6},
            "encoding": {"y": {"field": "g", "type": "quantitative", "axis": null}}
          },
          {
            "transform": [{"filter": "isValid(datum.r)"}],
            "mark": {"type": "line", "strokeWidth": 3.6, "interpolate": "monotone"},
            "encoding": {
              "x": {"field": "x", "type": "quantitative", "scale": {"domain": [0, 17.4], "nice": false, "zero": false},
                    "axis": {"values": [0, 5, 10, 15], "format": "d", "tickCount": 10, "tickMinStep": 0.5, "title": "MRT\u00a0\u00a0\u00a0\u00a0\u00a0\u00a0\u00a0/ yrs"}},
              "y": {"field": "y", "type": "quantitative", "scale": {"domain": [0, 1], "nice": false}, "axis": null},
              "color": {"field": "r", "type": "nominal",
                        "scale": {"domain": ["a", "b", "c"], "range": ["#24608b", "#33898a", "#5daa8f"]},
                        "legend": {"title": null, "labelExpr": "datum.value == 'a' ? '0.50°' : datum.value == 'b' ? '0.25°' : '0.05°'"}},
              "strokeDash": {"field": "r", "type": "nominal",
                             "scale": {"domain": ["a", "b", "c"], "range": [[1, 0], [13, 6], [3.6, 6.4]]},
                             "legend": {"title": null, "labelExpr": "datum.value == 'a' ? '0.50°' : datum.value == 'b' ? '0.25°' : '0.05°'"}}
            }
          },
          {
            "transform": [{"filter": "isValid(datum.u)"}],
            "mark": {"type": "text", "align": "center", "baseline": "alphabetic", "fontSize": 14.7, "fontStyle": "italic", "color": "#262626"},
            "encoding": {"x": {"datum": 8.62}, "y": {"datum": -0.786}, "text": {"field": "u"}}
          }
        ]
      }
    },
    {
      "transform": [{"filter": "datum.v == 'R'"}],
      "facet": {"row": {"field": "s", "type": "ordinal", "header": {"labels": false, "title": null}}},
      "spacing": {"row": 13.4},
      "bounds": "flush",
      "spec": {
        "width": 316,
        "height": 98,
        "layer": [
          {
            "transform": [{"filter": "isValid(datum.g)"}],
            "mark": {"type": "rule", "color": "white", "strokeWidth": 1.6},
            "encoding": {"y": {"field": "g", "type": "quantitative", "axis": null}}
          },
          {
            "transform": [{"filter": "isValid(datum.r)"}],
            "mark": {"type": "line", "strokeWidth": 3.6, "interpolate": "monotone"},
            "encoding": {
              "x": {"field": "x", "type": "quantitative", "scale": {"domain": [0, 2.04], "nice": false, "zero": false},
                    "axis": {"values": [0, 1, 2], "format": "d", "tickCount": 10, "tickMinStep": 0.5, "title": "MRT\u00a0\u00a0\u00a0\u00a0\u00a0\u00a0\u00a0/ yrs"}},
              "y": {"field": "y", "type": "quantitative", "scale": {"domain": [0, 1], "nice": false}, "axis": null},
              "color": {"field": "r", "type": "nominal",
                        "scale": {"domain": ["a", "b", "c"], "range": ["#24608b", "#33898a", "#5daa8f"]},
                        "legend": {"title": null, "labelExpr": "datum.value == 'a' ? '0.50°' : datum.value == 'b' ? '0.25°' : '0.05°'"}},
              "strokeDash": {"field": "r", "type": "nominal",
                             "scale": {"domain": ["a", "b", "c"], "range": [[1, 0], [13, 6], [3.6, 6.4]]},
                             "legend": {"title": null, "labelExpr": "datum.value == 'a' ? '0.50°' : datum.value == 'b' ? '0.25°' : '0.05°'"}}
            }
          },
          {
            "transform": [{"filter": "isValid(datum.u)"}],
            "mark": {"type": "text", "align": "center", "baseline": "alphabetic", "fontSize": 14.7, "fontStyle": "italic", "color": "#262626"},
            "encoding": {"x": {"datum": 0.985}, "y": {"datum": -0.786}, "text": {"field": "u"}}
          }
        ]
      }
    }
  ],
  "config": {
    "font": "DejaVu Sans",
    "view": {"stroke": null, "fill": "#EAEAF2"},
    "axis": {
      "domain": false, "ticks": false, "tickSize": 0,
      "gridColor": "white", "gridWidth": 1.6,
      "labelFontSize": 20.5, "labelColor": "#262626", "labelPadding": 27, "labelFlush": false, "labelOverlap": false,
      "titleFontSize": 21, "titleFontWeight": "normal", "titleColor": "#262626", "titlePadding": 9
    },
    "legend": {
      "orient": "none", "legendX": 286, "legendY": 748, "direction": "horizontal",
      "fillColor": "#EAEAF2", "strokeColor": "#cccccc", "cornerRadius": 4, "padding": 6,
      "symbolType": "M-2.5,0H2.5", "symbolSize": 339, "symbolStrokeWidth": 3.3, "symbolOffset": 14,
      "labelFontSize": 20, "labelColor": "#262626", "labelOffset": 26, "columnPadding": 33
    }
  }
}
